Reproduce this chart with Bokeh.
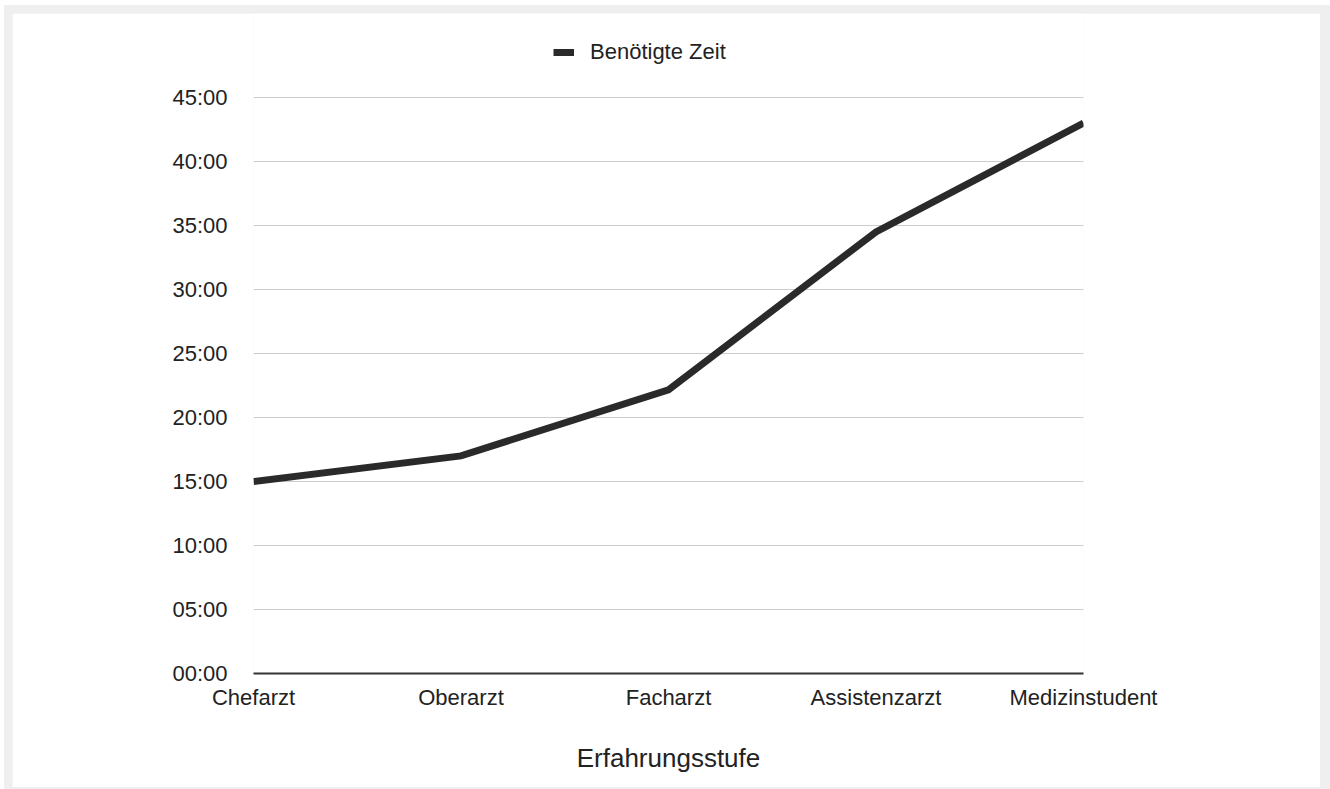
from bokeh.plotting import figure
from bokeh.models import Range1d, FixedTicker, Legend
from bokeh.layouts import column
from bokeh.embed import file_html
from bokeh.resources import INLINE

categories = ["Chefarzt", "Oberarzt", "Facharzt", "Assistenzarzt", "Medizinstudent"]
minutes = [15.0, 17.0, 22.17, 34.5, 43.0]
y_ticks = [0, 5, 10, 15, 20, 25, 30, 35, 40, 45]
y_tick_labels = ["00:00", "05:00", "10:00", "15:00", "20:00", "25:00", "30:00", "35:00", "40:00", "45:00"]
series_name = "Benötigte Zeit"
x_title = "Erfahrungsstufe"

FONT = "Liberation Sans"
TXT = "#222222"

xs = list(range(len(categories)))

# frame spans the full top so the legend (inside the frame) is not clipped;
# 45:00 still sits at the same pixel height as in the reference
p = figure(width=1308, height=774, output_backend="svg", toolbar_location=None,
           x_range=Range1d(0, len(categories) - 1), y_range=Range1d(0, 51.5625),
           min_border_left=241, min_border_right=237, min_border_top=0, min_border_bottom=114,
           background_fill_color="white", border_fill_color="white", outline_line_color=None)

r = p.line(xs, minutes, line_color="#2a2a2a", line_width=7, line_join="miter")

p.xaxis.ticker = FixedTicker(ticks=xs)
p.xaxis.major_label_overrides = {i: c for i, c in enumerate(categories)}
p.yaxis.ticker = FixedTicker(ticks=y_ticks)
p.yaxis.major_label_overrides = {t: l for t, l in zip(y_ticks, y_tick_labels)}

p.xgrid.visible = False
p.ygrid.grid_line_color = "#cccccc"
p.ygrid.grid_line_width = 1

for ax in (p.xaxis[0], p.yaxis[0]):
    ax.major_tick_line_color = None
    ax.minor_tick_line_color = None
    ax.major_label_text_font = FONT
    ax.major_label_text_font_size = "22px"
    ax.major_label_text_color = TXT

p.yaxis.axis_line_color = None
p.yaxis.major_label_standoff = 20
p.xaxis.axis_line_color = "#333333"
p.xaxis.axis_line_width = 2
p.xaxis.major_label_standoff = 5
p.xaxis.axis_label = x_title
p.xaxis.axis_label_text_font = FONT
p.xaxis.axis_label_text_font_size = "26px"
p.xaxis.axis_label_text_font_style = "normal"
p.xaxis.axis_label_text_color = TXT
p.xaxis.axis_label_standoff = 30

legend = Legend(items=[(series_name, [r])], location=(300, 608),
                border_line_color=None, background_fill_alpha=0,
                padding=0, margin=0, spacing=0,
                glyph_width=21, glyph_height=24, label_height=24,
                label_standoff=16, label_text_font=FONT,
                label_text_font_size="22px", label_text_color=TXT)
p.add_layout(legend)

lay = column(p, margin=(5, 0, 0, 4),
             styles={"background-color": "#efefef", "padding": "8px 10px 8px 8px"})

open("out.html", "w").write(file_html(lay, INLINE))
